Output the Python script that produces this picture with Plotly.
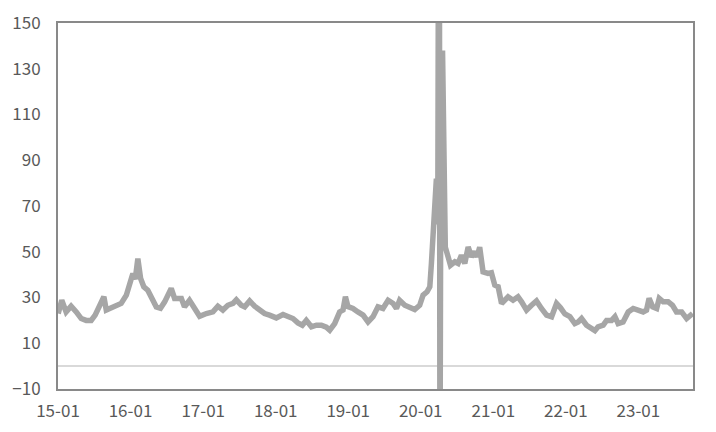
"""
Volatility index, 2015-01 to 2023-10, redrawn with Plotly.
"""

import pandas as pd
import plotly.graph_objects as go

# readings (irregular dates, roughly every 3-4 weeks)
dates = [
    "2015-01-02", "2015-01-20", "2015-02-11", "2015-03-08", "2015-04-03", "2015-04-28",
    "2015-05-23", "2015-06-17", "2015-07-07", "2015-07-29", "2015-08-20", "2015-09-01",
    "2015-09-26", "2015-10-21", "2015-11-15", "2015-12-11", "2016-01-01", "2016-01-13",
    "2016-01-25", "2016-02-07", "2016-02-21", "2016-03-08", "2016-03-28", "2016-04-15",
    "2016-05-10", "2016-05-31", "2016-06-21", "2016-07-24", "2016-08-10", "2016-09-13",
    "2016-09-29", "2016-10-24", "2016-11-19", "2016-12-14", "2017-01-17", "2017-02-19",
    "2017-03-16", "2017-04-10", "2017-05-05", "2017-05-31", "2017-06-17", "2017-07-12",
    "2017-07-29", "2017-08-23", "2017-09-17", "2017-10-12", "2017-11-06", "2017-12-01",
    "2018-01-04", "2018-02-07", "2018-03-04", "2018-03-29", "2018-04-23", "2018-05-15",
    "2018-06-04", "2018-06-30", "2018-07-25", "2018-08-19", "2018-09-13", "2018-09-30",
    "2018-10-25", "2018-11-19", "2018-12-06", "2018-12-18", "2018-12-31", "2019-01-25",
    "2019-02-19", "2019-03-17", "2019-04-11", "2019-05-06", "2019-05-31", "2019-06-25",
    "2019-07-21", "2019-08-15", "2019-09-01", "2019-09-17", "2019-10-13", "2019-11-07",
    "2019-12-02", "2019-12-27", "2020-01-13", "2020-02-02", "2020-02-16", "2020-02-24",
    "2020-02-29", "2020-03-07", "2020-03-12", "2020-03-20", "2020-03-27", "2020-04-03",
    "2020-04-07", "2020-04-11", "2020-04-20", "2020-04-26", "2020-05-04", "2020-05-18",
    "2020-05-30", "2020-06-21", "2020-07-07", "2020-07-24", "2020-08-10", "2020-08-27",
    "2020-09-13", "2020-09-29", "2020-10-11", "2020-10-24", "2020-11-10", "2020-12-05",
    "2020-12-22", "2021-01-08", "2021-01-25", "2021-02-11", "2021-02-27", "2021-03-16",
    "2021-04-10", "2021-05-05", "2021-05-23", "2021-06-17", "2021-07-12", "2021-08-06",
    "2021-08-31", "2021-09-26", "2021-10-21", "2021-11-15", "2021-12-05", "2021-12-27",
    "2022-01-21", "2022-02-15", "2022-03-04", "2022-03-21", "2022-04-15", "2022-05-10",
    "2022-05-27", "2022-06-12", "2022-07-08", "2022-07-25", "2022-08-19", "2022-09-05",
    "2022-09-21", "2022-10-16", "2022-11-11", "2022-12-06", "2022-12-31", "2023-01-25",
    "2023-02-11", "2023-02-24", "2023-03-14", "2023-04-03", "2023-04-16", "2023-05-06",
    "2023-05-31", "2023-06-22", "2023-07-12", "2023-08-07", "2023-09-01", "2023-09-17",
    "2023-10-01",
]

# April 2020 runs off both ends of the axis (the full-height vertical stroke)
values = [
    23.0, 28.8, 23.7, 26.2, 23.7, 20.8,
    20.0, 20.0, 22.3, 25.9, 30.3, 24.5,
    25.3, 26.6, 27.4, 31.0, 36.0, 40.5,
    38.0, 47.0, 38.3, 34.7, 33.2, 30.3,
    25.9, 25.3, 28.1, 34.0, 29.6, 29.6,
    25.9, 28.8, 25.2, 21.8, 23.0, 23.7,
    26.2, 24.5, 26.6, 27.4, 29.0, 26.6,
    25.9, 28.5, 26.2, 24.5, 23.0, 22.3,
    21.1, 22.6, 21.6, 20.8, 18.9, 17.9,
    20.0, 17.2, 17.9, 17.9, 17.0, 15.7,
    18.6, 23.7, 24.5, 30.3, 26.0, 25.2,
    23.7, 22.3, 19.3, 21.6, 25.9, 25.2,
    28.8, 27.4, 25.2, 28.8, 26.6, 25.9,
    24.7, 26.6, 31.0, 32.5, 34.7, 44.9,
    52.0, 66.8, 77.0, 82.0, 62.0, 320.0,
    -60.0, 75.0, 138.0, 80.0, 52.0, 47.8,
    44.1, 45.6, 44.9, 48.5, 44.9, 52.1,
    47.8, 50.0, 47.8, 52.0, 41.2, 40.5,
    40.8, 35.4, 34.7, 27.4, 28.8, 30.3,
    28.8, 30.3, 28.1, 24.5, 26.6, 28.5,
    25.2, 22.3, 21.6, 27.4, 25.5, 22.8,
    21.6, 18.6, 19.3, 20.8, 17.9, 16.0,
    15.5, 17.2, 17.9, 20.0, 20.0, 21.6,
    18.6, 19.3, 23.7, 25.2, 24.5, 23.7,
    24.5, 29.6, 25.9, 25.2, 29.6, 28.1,
    28.1, 26.6, 23.7, 23.7, 20.8, 22.3,
    23.0,
]

x_range = ["2015-01-01", "2023-10-03"]
y_ticks = [-10, 10, 30, 50, 70, 90, 110, 130, 150]

TEXT_COLOR = "#595959"
FONT = "Noto Sans CJK SC"

df = pd.DataFrame({"date": pd.to_datetime(dates), "value": values})

fig = go.Figure()
fig.add_trace(go.Scatter(
    x=df["date"],
    y=df["value"],
    mode="lines",
    line=dict(color="#a6a6a6", width=5.5),
    hoverinfo="skip",
))

fig.update_layout(
    width=716,
    height=432,
    showlegend=False,
    paper_bgcolor="white",
    plot_bgcolor="white",
    font=dict(family=FONT, size=17, color=TEXT_COLOR),
    margin=dict(l=58, r=23, t=23, b=43, autoexpand=False),
    xaxis=dict(
        type="date",
        range=x_range,
        tick0="2015-01-01",
        dtick="M12",
        tickformat="%y-%m",
        showgrid=False,
        zeroline=False,
        showline=True,
        mirror=True,
        linecolor="#898989",
        linewidth=2,
        ticks="outside",
        ticklen=6,
        tickcolor="rgba(0,0,0,0)",
        automargin=False,
    ),
    yaxis=dict(
        range=[-10, 150],
        tickvals=y_ticks,
        showgrid=False,
        zeroline=True,
        zerolinecolor="#d9d9d9",
        zerolinewidth=1.5,
        showline=True,
        mirror=True,
        linecolor="#898989",
        linewidth=2,
        ticks="outside",
        ticklen=12,
        tickcolor="rgba(0,0,0,0)",
        automargin=False,
    ),
)

# the page body has a default 8px margin; drop it so the figure sits at 0,0
fig.write_html(
    "out.html",
    config={"displayModeBar": False, "staticPlot": True},
    post_script="document.body.style.margin = '0';",
)
